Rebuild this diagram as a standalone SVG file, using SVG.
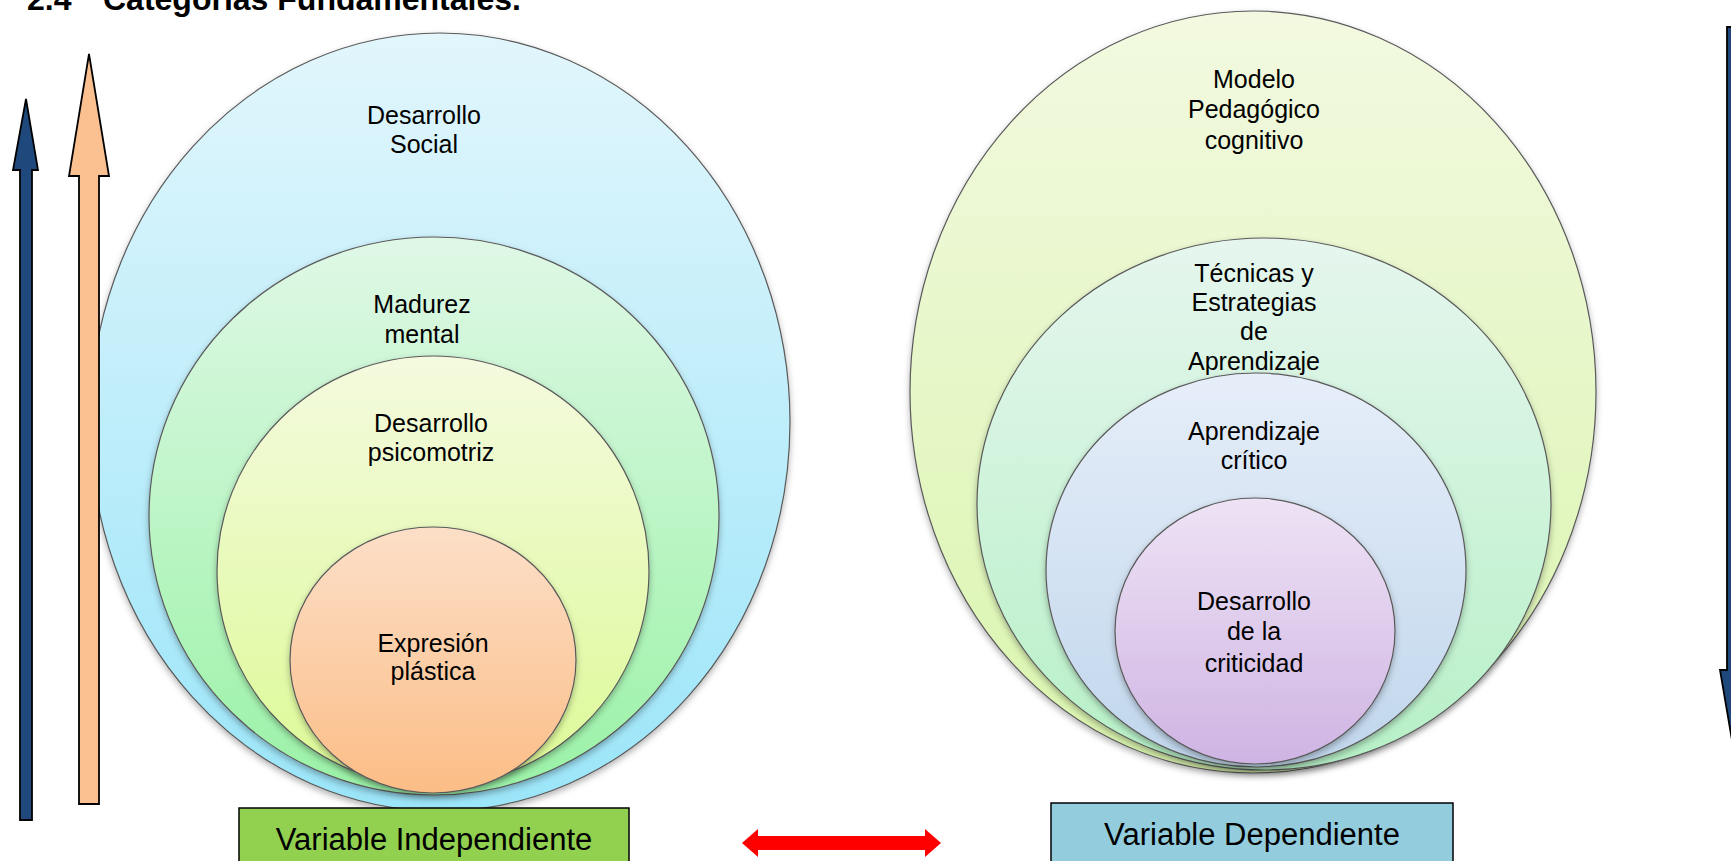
<svg xmlns="http://www.w3.org/2000/svg" width="1731" height="861" viewBox="0 0 1731 861">
<style>
text{font-family:"Liberation Sans",Arial,sans-serif;fill:#000;}
.lbl{font-size:25px;text-anchor:middle;}
.box{font-size:31px;text-anchor:middle;}
.title{font-size:32px;font-weight:bold;}
.ring{stroke:#5a5a5a;stroke-width:1.2;filter:url(#sh);}
.arr{stroke:#000;stroke-width:1.8;stroke-linejoin:miter;}
</style>
<defs>
<filter id="sh" x="-10%" y="-10%" width="120%" height="125%">
<feDropShadow dx="0" dy="3" stdDeviation="3" flood-color="#000" flood-opacity="0.3"/>
</filter>
<linearGradient id="gL1" x1="0" y1="0" x2="0" y2="1"><stop offset="0" stop-color="#e2f6fc"/><stop offset="1" stop-color="#9be5f9"/></linearGradient>
<linearGradient id="gL2" x1="0" y1="0" x2="0" y2="1"><stop offset="0" stop-color="#dff8e6"/><stop offset="1" stop-color="#9af2a6"/></linearGradient>
<linearGradient id="gL3" x1="0" y1="0" x2="0" y2="1"><stop offset="0" stop-color="#f4fadf"/><stop offset="1" stop-color="#dcfa95"/></linearGradient>
<linearGradient id="gL4" x1="0" y1="0" x2="0" y2="1"><stop offset="0" stop-color="#fcdfc8"/><stop offset="1" stop-color="#fbbd86"/></linearGradient>
<linearGradient id="gR1" x1="0" y1="0" x2="0" y2="1"><stop offset="0" stop-color="#f2f9e0"/><stop offset="1" stop-color="#daf5ae"/></linearGradient>
<linearGradient id="gR2" x1="0" y1="0" x2="0" y2="1"><stop offset="0" stop-color="#e6f6ee"/><stop offset="1" stop-color="#b6f0c6"/></linearGradient>
<linearGradient id="gR3" x1="0" y1="0" x2="0" y2="1"><stop offset="0" stop-color="#e6eef9"/><stop offset="1" stop-color="#c0d6ec"/></linearGradient>
<linearGradient id="gR4" x1="0" y1="0" x2="0" y2="1"><stop offset="0" stop-color="#eee3f5"/><stop offset="1" stop-color="#cfb4e3"/></linearGradient>
</defs>
<rect width="1731" height="861" fill="#fff"/>
<text class="title" x="27" y="10">2.4</text>
<text class="title" x="103" y="10">Categorías Fundamentales.</text>

<g id="desarrollo-social">
<ellipse class="ring" cx="440" cy="422" rx="350" ry="389" fill="url(#gL1)"/>
<text class="lbl" x="424" y="124">Desarrollo</text>
<text class="lbl" x="424" y="153">Social</text>
</g>
<g id="madurez-mental">
<ellipse class="ring" cx="434" cy="516" rx="285" ry="279" fill="url(#gL2)"/>
<text class="lbl" x="422" y="313">Madurez</text>
<text class="lbl" x="422" y="343">mental</text>
</g>
<g id="desarrollo-psicomotriz">
<ellipse class="ring" cx="433" cy="571" rx="216" ry="215" fill="url(#gL3)"/>
<text class="lbl" x="431" y="432">Desarrollo</text>
<text class="lbl" x="431" y="461">psicomotriz</text>
</g>
<g id="expresion-plastica">
<ellipse class="ring" cx="433" cy="660" rx="143" ry="133" fill="url(#gL4)"/>
<text class="lbl" x="433" y="652">Expresión</text>
<text class="lbl" x="433" y="680">plástica</text>
</g>

<g id="modelo-pedagogico">
<ellipse class="ring" cx="1253" cy="392" rx="343" ry="381" fill="url(#gR1)"/>
<text class="lbl" x="1254" y="88">Modelo</text>
<text class="lbl" x="1254" y="118">Pedagógico</text>
<text class="lbl" x="1254" y="149">cognitivo</text>
</g>
<g id="tecnicas-estrategias">
<ellipse class="ring" cx="1264" cy="504" rx="287" ry="266" fill="url(#gR2)"/>
<text class="lbl" x="1254" y="282">Técnicas y</text>
<text class="lbl" x="1254" y="311">Estrategias</text>
<text class="lbl" x="1254" y="340">de</text>
<text class="lbl" x="1254" y="370">Aprendizaje</text>
</g>
<g id="aprendizaje-critico">
<ellipse class="ring" cx="1256" cy="570" rx="210" ry="197" fill="url(#gR3)"/>
<text class="lbl" x="1254" y="440">Aprendizaje</text>
<text class="lbl" x="1254" y="469">crítico</text>
</g>
<g id="desarrollo-criticidad">
<ellipse class="ring" cx="1255" cy="631" rx="140" ry="133" fill="url(#gR4)"/>
<text class="lbl" x="1254" y="610">Desarrollo</text>
<text class="lbl" x="1254" y="640">de la</text>
<text class="lbl" x="1254" y="672">criticidad</text>
</g>

<g id="variable-independiente">
<rect x="239" y="808" width="390" height="60" fill="#92d050" stroke="#000" stroke-width="1.5"/>
<text class="box" x="434" y="850">Variable Independiente</text>
</g>
<g id="variable-dependiente">
<rect x="1051" y="803" width="402" height="65" fill="#93cddd" stroke="#000" stroke-width="1.5"/>
<text class="box" x="1252" y="845">Variable Dependiente</text>
</g>

<g id="connectors">
<polygon class="arr" fill="#1f497d" points="26,99 38,170 32,170 32,820 20,820 20,170 13,170"/>
<polygon class="arr" fill="#fac090" points="89,54 109,176 99,176 99,804 79,804 79,176 69,176"/>
<polygon class="arr" fill="#1f497d" points="1727,27 1765,27 1765,670 1770,670 1746,822 1720,670 1727,670"/>
<polygon fill="#ff0000" points="742,843 758,829 758,836 925,836 925,829 941,843 925,857 925,850 758,850 758,857"/>
</g>
</svg>
